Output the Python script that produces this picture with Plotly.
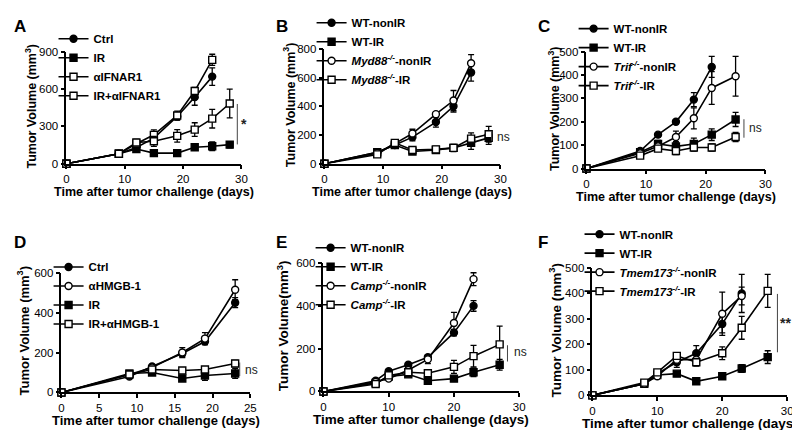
import plotly.graph_objects as go

W, H = 800, 430
FONT = "Liberation Sans, Arial, Helvetica, sans-serif"

# ---------------- data ----------------
# Panel A
A_DAYS_SHORT = [0, 9, 12, 15, 19, 22, 25]
A_DAYS_LONG = [0, 9, 12, 15, 19, 22, 25, 28]
A_CTRL = [0, 80, 130, 205, 380, 535, 700]
A_CTRL_ERR = [0, 8, 15, 20, 30, 65, 70]
A_IR = [0, 80, 118, 85, 85, 132, 140, 153]
A_IR_ERR = [0, 8, 15, 10, 10, 25, 35, 25]
A_AIFNAR1 = [0, 80, 160, 232, 388, 584, 835]
A_AIFNAR1_ERR = [0, 8, 20, 40, 35, 30, 45]
A_IR_AIFNAR1 = [0, 80, 170, 180, 224, 274, 362, 484]
A_IR_AIFNAR1_ERR = [0, 8, 25, 40, 50, 55, 75, 115]

# Panel B
B_DAYS_SHORT = [0, 9, 12, 15, 19, 22, 25]
B_DAYS_LONG = [0, 9, 12, 15, 19, 22, 25, 28]
B_WT_NONIR = [0, 80, 130, 185, 290, 400, 635]
B_WT_NONIR_ERR = [0, 10, 15, 25, 35, 40, 60]
B_WT_IR = [0, 80, 130, 85, 95, 110, 145, 180]
B_WT_IR_ERR = [0, 10, 15, 15, 20, 25, 45, 45]
B_KO_NONIR = [0, 75, 140, 210, 345, 440, 700]
B_KO_NONIR_ERR = [0, 10, 15, 30, 15, 70, 60]
B_KO_IR = [0, 65, 145, 95, 100, 110, 175, 205]
B_KO_IR_ERR = [0, 10, 15, 15, 20, 20, 40, 55]

# Panel C
C_DAYS_WT_NONIR = [0, 9, 12, 15, 18, 21]
C_DAYS_OTHER = [0, 9, 12, 15, 18, 21, 25]
C_WT_NONIR = [0, 75, 145, 200, 295, 435]
C_WT_NONIR_ERR = [0, 5, 8, 8, 30, 45]
C_WT_IR = [0, 70, 105, 95, 105, 145, 210]
C_WT_IR_ERR = [0, 5, 15, 20, 25, 25, 30]
C_KO_NONIR = [0, 65, 95, 135, 215, 345, 395]
C_KO_NONIR_ERR = [0, 5, 10, 25, 45, 70, 85]
C_KO_IR = [0, 55, 85, 75, 90, 90, 135]
C_KO_IR_ERR = [0, 5, 10, 15, 15, 15, 20]

# Panel D
D_DAYS = [0, 9, 12, 16, 19, 23]
D_CTRL = [0, 80, 130, 195, 255, 450]
D_CTRL_ERR = [0, 5, 8, 15, 15, 25]
D_AHMGB = [0, 90, 125, 200, 270, 515]
D_AHMGB_ERR = [0, 5, 8, 25, 30, 50]
D_IR = [0, 95, 100, 70, 85, 95]
D_IR_ERR = [0, 8, 8, 8, 25, 25]
D_IR_AHMGB = [0, 90, 115, 110, 115, 145]
D_IR_AHMGB_ERR = [0, 5, 8, 8, 10, 15]

# Panel E
E_DAYS_NONIR = [0, 8, 10, 13, 16, 20, 23]
E_DAYS_IR = [0, 8, 10, 13, 16, 20, 23, 27]
E_WT_NONIR = [0, 50, 95, 125, 160, 275, 400]
E_WT_NONIR_ERR = [0, 5, 8, 10, 10, 15, 25]
E_WT_IR = [0, 40, 70, 80, 50, 60, 90, 125]
E_WT_IR_ERR = [0, 5, 8, 8, 5, 8, 20, 25]
E_KO_NONIR = [0, 45, 60, 100, 150, 320, 525]
E_KO_NONIR_ERR = [0, 5, 8, 10, 20, 50, 30]
E_KO_IR = [0, 35, 75, 90, 85, 115, 165, 220]
E_KO_IR_ERR = [0, 5, 8, 10, 8, 30, 50, 85]

# Panel F
F_DAYS_NONIR = [0, 8, 10, 13, 16, 20, 23]
F_DAYS_IR = [0, 8, 10, 13, 16, 20, 23, 27]
F_WT_NONIR = [0, 45, 85, 130, 165, 280, 400]
F_WT_NONIR_ERR = [0, 5, 8, 20, 30, 35, 75]
F_WT_IR = [0, 45, 80, 85, 55, 75, 105, 150]
F_WT_IR_ERR = [0, 5, 8, 8, 5, 10, 15, 25]
F_KO_NONIR = [0, 45, 75, 140, 140, 320, 390]
F_KO_NONIR_ERR = [0, 5, 8, 15, 20, 85, 35]
F_KO_IR = [0, 50, 90, 155, 130, 165, 265, 410]
F_KO_IR_ERR = [0, 5, 8, 10, 15, 25, 45, 65]

# significance brackets: (x, y0, y1, label_x, label_y, label)
A_SIG = (29.3, 155, 480, 30.4, 320, "*")
B_SIG = (28.5, 160, 228, 30.6, 188, "ns")
C_SIG = (26.4, 132, 211, 28.3, 172, "ns")
D_SIG = (23.6, 82, 150, 25.1, 112, "ns")
E_SIG = (28.2, 140, 216, 30.2, 185, "ns")
F_SIG = (28.5, 169, 398, 29.8, 285, "**")

# ---------------- styles ----------------
FILLED_CIRCLE = dict(symbol="circle", color="black")
FILLED_SQUARE = dict(symbol="square", color="black")
OPEN_CIRCLE = dict(symbol="circle", color="white")
OPEN_SQUARE = dict(symbol="square", color="white")

def ko(name, suffix):
    return f"<i>{name}<sup>-/-</sup></i>-{suffix}"

panels = [
    dict(letter="A", box=(56, 233, 36, 152), xr=30, dx=10, yr=900, dy=300,
         ytitle="Tumor Volume (mm<sup>3</sup>)", yto=36, tfs=12.5, leg_top=7.5,
         series=[("Ctrl", A_DAYS_SHORT, A_CTRL, A_CTRL_ERR, FILLED_CIRCLE),
                 ("IR", A_DAYS_LONG, A_IR, A_IR_ERR, FILLED_SQUARE),
                 ("\u03b1IFNAR1", A_DAYS_SHORT, A_AIFNAR1, A_AIFNAR1_ERR, OPEN_SQUARE),
                 ("IR+\u03b1IFNAR1", A_DAYS_LONG, A_IR_AIFNAR1, A_IR_AIFNAR1_ERR, OPEN_SQUARE)],
         sig=A_SIG),
    dict(letter="B", box=(317, 495, 33, 152), xr=30, dx=10, yr=800, dy=200,
         ytitle="Tumor Volume (mm<sup>3</sup>)", yto=35, tfs=12.5, leg_top=-9,
         series=[("WT-nonIR", B_DAYS_SHORT, B_WT_NONIR, B_WT_NONIR_ERR, FILLED_CIRCLE),
                 ("WT-IR", B_DAYS_LONG, B_WT_IR, B_WT_IR_ERR, FILLED_SQUARE),
                 (ko("Myd88", "nonIR"), B_DAYS_SHORT, B_KO_NONIR, B_KO_NONIR_ERR, OPEN_CIRCLE),
                 (ko("Myd88", "IR"), B_DAYS_LONG, B_KO_IR, B_KO_IR_ERR, OPEN_SQUARE)],
         sig=B_SIG),
    dict(letter="C", box=(582, 763, 36, 157), xr=30, dx=10, yr=500, dy=100,
         ytitle="Tumor Volume (mm<sup>3</sup>)", yto=33, tfs=12.5, leg_top=-3,
         series=[("WT-nonIR", C_DAYS_WT_NONIR, C_WT_NONIR, C_WT_NONIR_ERR, FILLED_CIRCLE),
                 ("WT-IR", C_DAYS_OTHER, C_WT_IR, C_WT_IR_ERR, FILLED_SQUARE),
                 (ko("Trif", "nonIR"), C_DAYS_OTHER, C_KO_NONIR, C_KO_NONIR_ERR, OPEN_CIRCLE),
                 (ko("Trif", "IR"), C_DAYS_OTHER, C_KO_IR, C_KO_IR_ERR, OPEN_SQUARE)],
         sig=C_SIG),
    dict(letter="D", box=(51, 242, 265, 389), xr=25, dx=5, yr=600, dy=200,
         ytitle="Tumor Volume (mm<sup>3</sup>)", yto=39, tfs=13, leg_top=244,
         series=[("Ctrl", D_DAYS, D_CTRL, D_CTRL_ERR, FILLED_CIRCLE),
                 ("\u03b1HMGB-1", D_DAYS, D_AHMGB, D_AHMGB_ERR, OPEN_CIRCLE),
                 ("IR", D_DAYS, D_IR, D_IR_ERR, FILLED_SQUARE),
                 ("IR+\u03b1HMGB-1", D_DAYS, D_IR_AHMGB, D_IR_AHMGB_ERR, OPEN_SQUARE)],
         sig=D_SIG),
    dict(letter="E", box=(316, 514, 255, 388), xr=30, dx=10, yr=600, dy=200,
         ytitle="Tumor Volume(mm<sup>3</sup>)", yto=41, tfs=13.5, leg_top=224,
         series=[("WT-nonIR", E_DAYS_NONIR, E_WT_NONIR, E_WT_NONIR_ERR, FILLED_CIRCLE),
                 ("WT-IR", E_DAYS_IR, E_WT_IR, E_WT_IR_ERR, FILLED_SQUARE),
                 (ko("Camp", "nonIR"), E_DAYS_NONIR, E_KO_NONIR, E_KO_NONIR_ERR, OPEN_CIRCLE),
                 (ko("Camp", "IR"), E_DAYS_IR, E_KO_IR, E_KO_IR_ERR, OPEN_SQUARE)],
         sig=E_SIG),
    dict(letter="F", box=(588, 785, 260, 392), xr=30, dx=10, yr=500, dy=100,
         ytitle="Tumor Volume (mm<sup>3</sup>)", yto=38, tfs=13.5, leg_top=210,
         series=[("WT-nonIR", F_DAYS_NONIR, F_WT_NONIR, F_WT_NONIR_ERR, FILLED_CIRCLE),
                 ("WT-IR", F_DAYS_IR, F_WT_IR, F_WT_IR_ERR, FILLED_SQUARE),
                 (ko("Tmem173", "nonIR"), F_DAYS_NONIR, F_KO_NONIR, F_KO_NONIR_ERR, OPEN_CIRCLE),
                 (ko("Tmem173", "IR"), F_DAYS_IR, F_KO_IR, F_KO_IR_ERR, OPEN_SQUARE)],
         sig=F_SIG),
]

fig = go.Figure()
layout = dict(
    width=W, height=H, margin=dict(l=0, r=0, t=0, b=0),
    paper_bgcolor="white", plot_bgcolor="rgba(0,0,0,0)",
    font=dict(family=FONT, color="black", size=11),
    annotations=[], shapes=[],
)


def to_paper(p, xv, yv):
    x0, x1, yt, yb = p["box"]
    px = x0 + xv / p["xr"] * (x1 - x0)
    py = yb - yv / p["yr"] * (yb - yt)
    return px / W, 1 - py / H


for i, p in enumerate(panels):
    n = i + 1
    sfx = "" if n == 1 else str(n)
    xa, ya = "x" + sfx, "y" + sfx
    legname = "legend" + sfx
    x0, x1, yt, yb = p["box"]
    axis_common = dict(showline=True, linecolor="black", linewidth=1.6,
                       ticks="outside", ticklen=4, tickwidth=1.6, tickcolor="black",
                       showgrid=False, zeroline=False, tickmode="linear", tick0=0,
                       tickfont=dict(family=FONT, size=11.5, color="black"))
    layout["xaxis" + sfx] = dict(axis_common, domain=[x0 / W, x1 / W], range=[0, p["xr"]],
                                  dtick=p["dx"], anchor=ya)
    layout["yaxis" + sfx] = dict(axis_common, domain=[1 - yb / H, 1 - yt / H], range=[0, p["yr"]],
                                  dtick=p["dy"], anchor=xa)
    for name, days, vals, errs, sty in p["series"]:
        fig.add_trace(go.Scatter(
            x=days, y=vals, name=name, mode="lines+markers",
            xaxis=xa, yaxis=ya, legend=legname, cliponaxis=False,
            line=dict(color="black", width=1.6),
            marker=dict(symbol=sty["symbol"], color=sty["color"], size=7,
                        line=dict(color="black", width=1.4)),
            error_y=dict(type="data", array=errs, visible=True, color="black",
                         thickness=1.3, width=3),
        ))
    layout[legname] = dict(
        x=(x0 - 13) / W, y=1 - p["leg_top"] / H, xanchor="left", yanchor="top",
        bgcolor="rgba(0,0,0,0)", borderwidth=0, itemwidth=30,
        font=dict(family=FONT, size=11.5, color="black", weight="bold"),
        tracegroupgap=0,
    )
    # axis titles
    layout["annotations"].append(dict(
        text="<b>Time after tumor challenge (days)</b>", xref="paper", yref="paper",
        x=(x0 + x1) / 2 / W, y=1 - (yb + 29.5) / H, showarrow=False,
        xanchor="center", yanchor="middle", font=dict(family=FONT, size=p["tfs"], color="black")))
    layout["annotations"].append(dict(
        text="<b>" + p["ytitle"] + "</b>", xref="paper", yref="paper", textangle=-90,
        x=(x0 - p["yto"]) / W, y=1 - ((yt + yb) / 2 - 2) / H, showarrow=False,
        xanchor="center", yanchor="middle", font=dict(family=FONT, size=p["tfs"], color="black")))
    # panel letter
    col = 0 if p["letter"] in "AD" else (265 if p["letter"] in "BE" else 530)
    row = 10 if p["letter"] in "ABC" else 234
    layout["annotations"].append(dict(
        text="<b>" + p["letter"] + "</b>", xref="paper", yref="paper",
        x=(col + 1) / W, y=1 - row / H, showarrow=False, xanchor="left", yanchor="middle",
        font=dict(family=FONT, size=17, color="black")))
    # significance bracket and label
    gx, gy0, gy1, lx, ly, lab = p["sig"]
    layout["shapes"].append(dict(type="line", xref=xa, yref=ya, x0=gx, x1=gx, y0=gy0, y1=gy1,
                                 line=dict(color="#444", width=1)))
    bold = lab.startswith("*")
    ax_, ay_ = to_paper(p, lx, ly)
    layout["annotations"].append(dict(
        text=("<b>%s</b>" % lab) if bold else lab, xref="paper", yref="paper", x=ax_, y=ay_,
        showarrow=False, xanchor="center", yanchor="middle",
        font=dict(family=FONT, size=14 if bold else 12, color="#222")))

fig.update_layout(**layout)
fig.write_html("out.html")
